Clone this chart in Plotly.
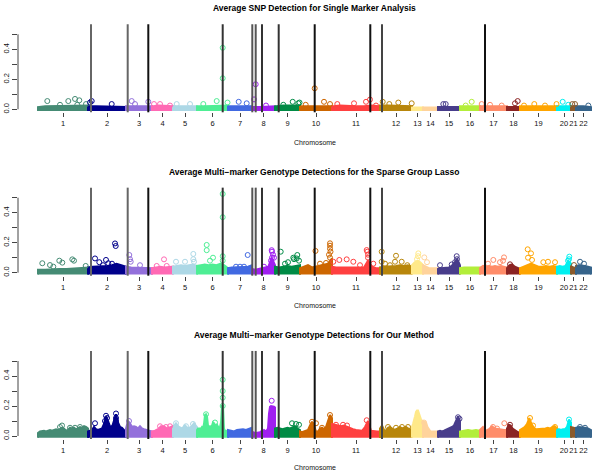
import numpy as np
import plotly.graph_objects as go
from bisect import bisect_right

# ---------------- data ----------------
chrom_labels = [str(i) for i in range(1, 23)]
chrom_sizes = [50, 38, 26, 21, 24, 31, 24, 23, 25, 32, 48, 32, 11, 15, 22, 20, 27, 13, 37, 14, 5, 15]
chrom_colors = ["#458B74", "#00008B", "#9370DB", "#FF69B4", "#ADD8E6", "#4EEE94", "#4169E1",
                "#A020F0", "#008B45", "#CD6600", "#FF4040", "#B8860B", "#FFE98A", "#FFD39B",
                "#483D8B", "#B3EE3A", "#FF8C69", "#8B2323", "#FFA500", "#00F0F0", "#8B5A2B", "#36648B"]

causal_positions = [53, 89.7, 110.3, 184.7, 214.3, 217.7, 224, 240.7, 276.7, 332.3, 344, 447]
causal_colors = ["#666", "#666", "#111", "#333", "#555", "#555", "#333", "#333", "#111", "#111", "#444", "#111"]

panel_titles = ["Average SNP Detection for Single Marker Analysis",
                "Average Multi\u2212marker Genotype Detections for the Sparse Group Lasso",
                "Average Multi\u2212marker Genotype Detections for Our Method"]

# dense band envelope (per chromosome, evenly spaced along the chromosome)
sma_band = [
    [0.015, 0.02, 0.02, 0.02, 0.02, 0.02, 0.025, 0.025],
    [0.02, 0.02, 0.02, 0.02, 0.02, 0.015],
    [0.02, 0.02, 0.02, 0.02],
    [0.02, 0.025, 0.02, 0.02],
    [0.02, 0.02, 0.02, 0.02],
    [0.02, 0.02, 0.02, 0.02, 0.025],
    [0.02, 0.02, 0.02, 0.02],
    [0.015, 0.015, 0.02, 0.02],
    [0.02, 0.025, 0.025, 0.025],
    [0.02, 0.02, 0.02, 0.025, 0.02],
    [0.02, 0.025, 0.02, 0.02, 0.02, 0.025, 0.02],
    [0.025, 0.025, 0.025, 0.025, 0.02],
    [0.012, 0.012, 0.012],
    [0.012, 0.012, 0.012],
    [0.015, 0.015, 0.015],
    [0.02, 0.02, 0.02],
    [0.02, 0.02, 0.02, 0.02],
    [0.015, 0.015, 0.015],
    [0.02, 0.02, 0.02, 0.02, 0.02],
    [0.02, 0.02, 0.02],
    [0.02, 0.02],
    [0.02, 0.02, 0.015],
]
sgl_band = [
    [0.02, 0.02, 0.025, 0.025, 0.025, 0.03, 0.03, 0.035],
    [0.035, 0.04, 0.04, 0.045, 0.045, 0.05, 0.06, 0.05, 0.04],
    [0.04, 0.035, 0.035, 0.03, 0.03, 0.03],
    [0.03, 0.035, 0.04, 0.035, 0.04, 0.04],
    [0.04, 0.045, 0.05, 0.045, 0.05, 0.055, 0.045],
    [0.045, 0.05, 0.055, 0.05, 0.055, 0.05, 0.06, 0.05, 0.03],
    [0.03, 0.035, 0.035, 0.04, 0.04, 0.04, 0.05],
    [0.025, 0.02, 0.025, 0.03, 0.03, 0.04, 0.1, 0.05],
    [0.04, 0.035, 0.04, 0.045, 0.04, 0.045, 0.05],
    [0.03, 0.04, 0.05, 0.035, 0.04, 0.045, 0.05, 0.06, 0.095],
    [0.04, 0.035, 0.035, 0.03, 0.03, 0.035, 0.03, 0.03, 0.035, 0.08, 0.04, 0.03, 0.03],
    [0.035, 0.04, 0.04, 0.045, 0.045, 0.05, 0.045, 0.05, 0.04],
    [0.05, 0.07, 0.08, 0.07, 0.05],
    [0.05, 0.04, 0.03, 0.03, 0.03, 0.03],
    [0.025, 0.03, 0.03, 0.03, 0.035, 0.045, 0.07, 0.09, 0.05],
    [0.03, 0.035, 0.035, 0.04, 0.035, 0.035],
    [0.03, 0.045, 0.04, 0.045, 0.04, 0.045, 0.04, 0.045, 0.04, 0.035],
    [0.03, 0.05, 0.055, 0.04, 0.03, 0.025],
    [0.03, 0.04, 0.05, 0.06, 0.05, 0.04, 0.04, 0.045, 0.04, 0.045, 0.04],
    [0.04, 0.045, 0.04, 0.045, 0.08, 0.06],
    [0.04, 0.035, 0.03],
    [0.045, 0.05, 0.05, 0.045, 0.04, 0.035],
]
our_band = [
    [0.02, 0.03, 0.035, 0.035, 0.03, 0.035, 0.04, 0.035, 0.04, 0.045, 0.04, 0.045, 0.055,
     0.05, 0.035, 0.04, 0.055, 0.05, 0.055, 0.045, 0.05, 0.06, 0.055, 0.065, 0.06, 0.05],
    [0.03, 0.035, 0.04, 0.06, 0.045, 0.04, 0.045, 0.05, 0.08, 0.13, 0.1, 0.065, 0.06, 0.1,
     0.145, 0.09, 0.06, 0.055, 0.04, 0.025],
    [0.05, 0.1, 0.085, 0.06, 0.065, 0.06, 0.05, 0.065, 0.05, 0.045, 0.04, 0.035, 0.03, 0.03],
    [0.03, 0.035, 0.045, 0.065, 0.065, 0.05, 0.06, 0.065],
    [0.06, 0.085, 0.06, 0.05, 0.07, 0.05, 0.06, 0.085, 0.06],
    [0.04, 0.05, 0.05, 0.055, 0.05, 0.06, 0.055, 0.08, 0.14, 0.145, 0.13, 0.07, 0.06, 0.065,
     0.06, 0.07, 0.09, 0.085, 0.07, 0.065, 0.075, 0.06, 0.05, 0.06, 0.09, 0.2, 0.2, 0.05,
     0.03, 0.035, 0.03, 0.025],
    [0.04, 0.035, 0.03, 0.04, 0.045, 0.045, 0.04, 0.045, 0.055],
    [0.03, 0.025, 0.02, 0.02, 0.02, 0.02, 0.02, 0.025, 0.025, 0.03, 0.03, 0.035, 0.04, 0.035,
     0.03, 0.04, 0.05, 0.15, 0.195, 0.2, 0.2, 0.2, 0.195, 0.19],
    [0.05, 0.055, 0.05, 0.045, 0.05, 0.055, 0.05, 0.06, 0.065, 0.05, 0.04],
    [0.03, 0.025, 0.03, 0.035, 0.04, 0.07, 0.095, 0.07, 0.03, 0.03, 0.05, 0.055, 0.045, 0.06,
     0.1, 0.14, 0.12],
    [0.08, 0.075, 0.07, 0.065, 0.07, 0.06, 0.05, 0.045, 0.04, 0.04, 0.035, 0.06, 0.1, 0.035,
     0.03, 0.03, 0.03],
    [0.05, 0.07, 0.04, 0.035, 0.055, 0.06, 0.05, 0.04, 0.045, 0.055, 0.06, 0.05, 0.055, 0.06,
     0.05, 0.045, 0.04],
    [0.06, 0.08, 0.1, 0.13, 0.16, 0.17, 0.17, 0.15, 0.12, 0.1, 0.08, 0.07],
    [0.1, 0.095, 0.09, 0.06, 0.04, 0.03, 0.03, 0.03, 0.03, 0.03, 0.03],
    [0.03, 0.035, 0.03, 0.035, 0.04, 0.045, 0.055, 0.06, 0.07, 0.1, 0.13, 0.1],
    [0.03, 0.035, 0.04, 0.035, 0.04, 0.035],
    [0.04, 0.06, 0.035, 0.045, 0.065, 0.05, 0.045, 0.04, 0.04, 0.04],
    [0.05, 0.075, 0.07, 0.05, 0.04, 0.03, 0.025, 0.02],
    [0.04, 0.05, 0.06, 0.08, 0.12, 0.08, 0.055, 0.045, 0.045, 0.05, 0.045, 0.05, 0.055, 0.05,
     0.06, 0.065, 0.05],
    [0.045, 0.045, 0.04, 0.045, 0.045, 0.06, 0.11, 0.09],
    [0.06, 0.055, 0.05],
    [0.055, 0.06, 0.06, 0.055, 0.05, 0.04],
]

# individual detections standing out from the band (genome position, detection rate)
sma_out_x = [9.3, 30.3, 37, 41.3, 48, 22, 39.3, 53.7, 52, 73.7, 93.7, 97, 110.3, 116, 122, 132,
             138.7, 152, 165.3, 178.7, 184.7, 184.7, 189.5, 200.7, 208.7, 216, 217.7, 228,
             254.7, 260.3, 245.3, 261.5, 267.7, 276.7, 286, 292, 299.3, 316, 328, 332, 338,
             344.7, 360.3, 351.3, 373.7, 405.3, 407.7, 433.7, 427.7, 443.7, 452, 463.7, 479.7,
             477, 486, 496.3, 507, 518.5, 524.7, 530.3, 534.3, 537, 550.3]
sma_out_y = [0.055, 0.055, 0.069, 0.06, 0.035, 0.03, 0.03, 0.055, 0.045, 0.035, 0.055, 0.035, 0.05,
             0.035, 0.035, 0.025, 0.035, 0.035, 0.035, 0.055, 0.41, 0.207, 0.045, 0.05, 0.04,
             0.066, 0.167, 0.025, 0.05, 0.04, 0.03, 0.045, 0.03, 0.14, 0.05, 0.035, 0.035, 0.04,
             0.05, 0.065, 0.025, 0.05, 0.045, 0.035, 0.04, 0.035, 0.035, 0.05, 0.025, 0.035,
             0.03, 0.025, 0.055, 0.04, 0.025, 0.035, 0.025, 0.035, 0.05, 0.03, 0.035, 0.035, 0.025]

sgl_out_x = [4.3, 12, 15.3, 21.3, 24.3, 34.3, 36, 47.7,
             57, 61.3, 68, 70.3, 77, 77.7, 65, 74,
             91.3, 92, 92.7, 102,
             126, 118.7, 128.7,
             138, 147, 155.3, 155.3, 156,
             168.7, 168.7, 172, 175, 184.7, 184.7, 184.7, 184.7,
             209.7, 198, 202, 206,
             233.7, 234, 235, 234, 236, 233, 226,
             242.7, 255.3, 259.3, 258.7, 256, 261, 247, 250,
             277.5, 282, 288, 292, 292, 292, 292.5, 292, 291,
             295.3, 301.3, 308.7, 315.3, 328.7, 329.3, 330, 330, 335.3, 322,
             343.7, 343.7, 347, 358, 357, 363.7, 369.3, 352,
             380.3, 380, 379,
             386.3, 389,
             402, 413.7, 418.7, 419, 417,
             455.3, 466, 462, 450, 465,
             472,
             489.7, 493, 490, 494, 505.3, 510, 517,
             531.3, 531, 530,
             536,
             542, 546]
sgl_out_y = [0.063, 0.051, 0.04, 0.08, 0.067, 0.089, 0.08, 0.045,
             0.095, 0.07, 0.085, 0.063, 0.195, 0.178, 0.05, 0.06,
             0.118, 0.09, 0.073, 0.05,
             0.089, 0.045, 0.045,
             0.073, 0.073, 0.125, 0.09, 0.073,
             0.185, 0.15, 0.08, 0.1, 0.525, 0.37, 0.11, 0.08,
             0.118, 0.04, 0.04, 0.04,
             0.15, 0.14, 0.12, 0.1, 0.1, 0.08, 0.04,
             0.14, 0.1, 0.118, 0.095, 0.09, 0.08, 0.06, 0.07,
             0.145, 0.06, 0.065, 0.196, 0.18, 0.16, 0.14, 0.1, 0.12,
             0.073, 0.085, 0.089, 0.073, 0.151, 0.14, 0.12, 0.1, 0.06, 0.05,
             0.14, 0.073, 0.06, 0.113, 0.073, 0.073, 0.05, 0.05,
             0.129, 0.11, 0.09,
             0.102, 0.07,
             0.05, 0.055, 0.11, 0.09, 0.07,
             0.085, 0.102, 0.07, 0.06, 0.08,
             0.056,
             0.156, 0.129, 0.1, 0.085, 0.07, 0.073, 0.07,
             0.107, 0.09, 0.08,
             0.051,
             0.073, 0.06]

our_out_x = [24, 22, 32, 37, 42,
             57, 68, 69, 78, 78, 78, 67,
             91,
             122, 128, 132,
             138, 148, 155,
             168, 184.7, 184.7, 184.7, 184.7, 177,
             233.7,
             254, 258, 261,
             274, 278, 284, 292,
             298, 305, 309, 328.7,
             350, 358, 364, 370,
             386,
             420, 421.5,
             455, 459, 466.3,
             472,
             492, 495, 517,
             531,
             542, 547]
our_out_y = [0.07, 0.06, 0.055, 0.055, 0.06,
             0.085, 0.135, 0.12, 0.15, 0.12, 0.1, 0.1,
             0.1,
             0.065, 0.06, 0.065,
             0.085, 0.065, 0.08,
             0.145, 0.375, 0.3, 0.255, 0.2, 0.09,
             0.235,
             0.085, 0.08, 0.075,
             0.095, 0.085, 0.055, 0.14,
             0.075, 0.075, 0.07, 0.105,
             0.06, 0.055, 0.06, 0.06,
             0.09,
             0.125, 0.115,
             0.06, 0.05, 0.085,
             0.075,
             0.12, 0.07, 0.06,
             0.11,
             0.06, 0.055]

y_tick_vals = [0.0, 0.1, 0.2, 0.3, 0.4, 0.5]
y_tick_text = ["0.0", "", "0.2", "", "0.4", ""]

# ---------------- figure ----------------
W, H = 600, 474
FONT = "Liberation Sans, Arial, Helvetica"
starts = list(np.concatenate([[0], np.cumsum(chrom_sizes)[:-1]]))
ends = list(np.cumsum(chrom_sizes))
centers = [(s + e) / 2 for s, e in zip(starts, ends)]

bands = [sma_band, sgl_band, our_band]
outs = [(sma_out_x, sma_out_y), (sgl_out_x, sgl_out_y), (our_out_x, our_out_y)]

zero_px = [109.3, 272.7, 436.0]          # pixel row of y=0 in each panel
px_per_unit = 150.0
y_range = [-0.02, 0.567]
title_px = [8, 171.5, 335]
xlab_px = [142, 305, 467]

fig = go.Figure()
for p in range(3):
    ax = "" if p == 0 else str(p + 1)
    xr, yr = "x" + ax, "y" + ax
    for i, band in enumerate(bands[p]):
        s, e = starts[i], ends[i]
        xs = np.linspace(s, e, len(band))
        px = [s] + list(xs) + [e]
        py = [-0.012] + list(band) + [-0.012]
        fig.add_trace(go.Scatter(x=px, y=py, mode="lines", fill="toself",
                                 fillcolor=chrom_colors[i],
                                 line=dict(color=chrom_colors[i], width=2),
                                 hoverinfo="skip", showlegend=False, xaxis=xr, yaxis=yr))
    ox, oy = outs[p]
    cols = [chrom_colors[min(bisect_right(starts, v) - 1, 21)] for v in ox]
    fig.add_trace(go.Scatter(x=ox, y=oy, mode="markers",
                             marker=dict(symbol="circle-open", size=5, color=cols,
                                         line=dict(width=1, color=cols)),
                             showlegend=False, xaxis=xr, yaxis=yr))

    top_px = zero_px[p] - y_range[1] * px_per_unit
    bot_px = zero_px[p] - y_range[0] * px_per_unit
    dom = [1 - bot_px / H, 1 - top_px / H]
    fig.update_layout(**{
        "xaxis" + ax: dict(domain=[0, 1], range=[-20, 562], anchor=yr,
                           tickvals=centers, ticktext=chrom_labels, tickangle=0,
                           ticks="outside", ticklen=4, tickwidth=1, tickcolor="#444",
                           showline=False, showgrid=False, zeroline=False, automargin=False,
                           tickfont=dict(size=7.5, color="#111", family=FONT)),
        "yaxis" + ax: dict(domain=dom, range=y_range, anchor=xr,
                           tickvals=y_tick_vals, ticktext=y_tick_text, tickangle=-90,
                           ticks="outside", ticklen=5, tickwidth=1, tickcolor="#444",
                           showline=False, showgrid=False, zeroline=False, automargin=False,
                           tickfont=dict(size=7.5, color="#111", family=FONT)),
    })
    # y axis line (0 to 0.5)
    fig.add_shape(type="line", xref=xr + " domain", yref=yr, x0=0, x1=0, y0=0, y1=0.5,
                  line=dict(color="#444", width=1))
    for cx, cc in zip(causal_positions, causal_colors):
        fig.add_shape(type="line", xref=xr, yref=yr + " domain", x0=cx, x1=cx, y0=0, y1=1,
                      line=dict(color=cc, width=2), layer="above")
    fig.add_annotation(text="<b>" + panel_titles[p] + "</b>", xref=xr, yref="paper",
                       x=276, y=1 - title_px[p] / H, showarrow=False, yanchor="middle",
                       font=dict(size=8.5, color="#000", family=FONT))
    fig.add_annotation(text="Chromosome", xref=xr, yref="paper",
                       x=277, y=1 - xlab_px[p] / H, showarrow=False, yanchor="middle",
                       font=dict(size=7, color="#111", family=FONT))

fig.update_layout(width=W, height=H, margin=dict(l=18, r=0, t=0, b=0),
                  paper_bgcolor="white", plot_bgcolor="white", showlegend=False)
fig.write_html("out.html", config={"displayModeBar": False},
               post_script="document.body.style.margin='0';document.body.style.padding='0';")
